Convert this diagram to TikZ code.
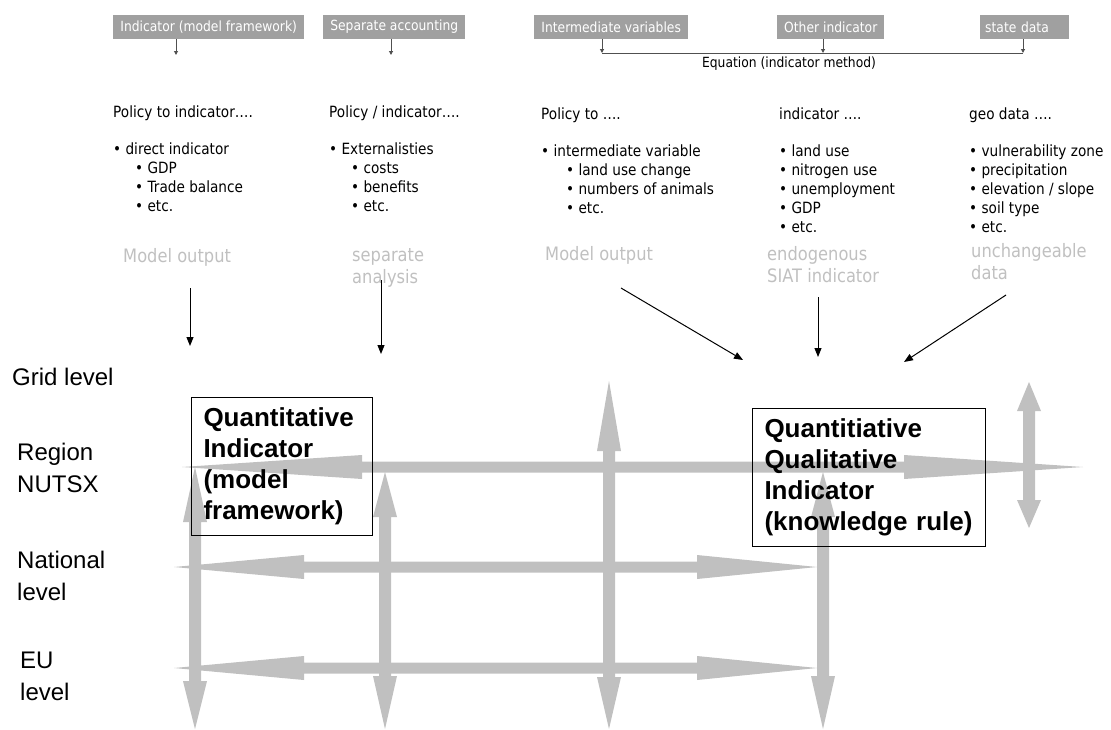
\documentclass[tikz,border=0pt]{standalone}
\usepackage{fontspec}
\setmainfont{Liberation Sans}
\newfontfamily\tahoma{DejaVu Sans}[FakeStretch=0.88]
\usetikzlibrary{arrows.meta}

\definecolor{levelgray}{RGB}{192,192,192}
\definecolor{boxgray}{RGB}{160,160,160}
\definecolor{notegray}{RGB}{192,192,192}
\definecolor{linkgray}{RGB}{80,80,80}

\begin{document}
\begin{tikzpicture}[x=1pt, y=-1pt,
		inputbox/.style={fill=boxgray, text=white, font=\tahoma\fontsize{14}{16}\selectfont,
		inner xsep=7pt, inner ysep=0pt, minimum height=24pt, anchor=west},
		listtext/.style={font=\tahoma\fontsize{15.5}{19}\selectfont, align=left,
		anchor=north west, inner sep=0pt},
		sourcetext/.style={font=\tahoma\fontsize{18.5}{22}\selectfont, text=notegray,
		align=left, anchor=north west, inner sep=0pt},
		leveltext/.style={font=\fontsize{24}{32}\selectfont, align=left, anchor=west,
		inner sep=0pt},
		indicatorbox/.style={draw, line width=1pt, font=\bfseries\fontsize{26}{31}\selectfont,
		align=left, anchor=north west, minimum height=138pt, inner xsep=12pt},
		smalllink/.style={draw=linkgray, line width=1pt, -{Triangle[length=4pt,width=4pt]}},
		feed/.style={line width=1pt, -{Triangle[length=9pt,width=7pt]}},
	]

	\useasboundingbox (0,0) rectangle (1111,729);

	% horizontal level arrow: y, left tip, left base, right base, right tip
	\newcommand\hlevel[5]{\fill[levelgray] (#2,#1) -- (#3,{#1-12}) -- (#3,{#1-5.5})
		-- (#4,{#1-5.5}) -- (#4,{#1-12}) -- (#5,#1) -- (#4,{#1+12}) -- (#4,{#1+5.5})
		-- (#3,{#1+5.5}) -- (#3,{#1+12}) -- cycle;}
	% vertical level arrow: x, top tip, top base, bottom base, bottom tip
	\newcommand\vlevel[5]{\fill[levelgray] (#1,#2) -- ({#1+12},#3) -- ({#1+6},#3)
		-- ({#1+6},#4) -- ({#1+12},#4) -- (#1,#5) -- ({#1-12},#4) -- ({#1-6},#4)
		-- ({#1-6},#3) -- ({#1-12},#3) -- cycle;}

	% grid of levels
	\hlevel{467}{182}{362}{904}{1083}
	\hlevel{567}{174}{304}{697}{817}
	\hlevel{668}{174}{304}{697}{817}
	\vlevel{195}{467}{522}{681}{729}
	\vlevel{385}{472}{517}{676}{729}
	\vlevel{609}{381}{451}{677}{729}
	\vlevel{823}{472}{517}{676}{729}
	\vlevel{1029}{382}{411}{500}{528}

	% inputs
	\node[inputbox, minimum width=191pt] (modelfw) at (113,27) {Indicator (model framework)};
	\node[inputbox, minimum width=142pt] (sepacc) at (323,27) {Separate accounting};
	\node[inputbox, minimum width=154pt] (intervar) at (534,27) {Intermediate variables};
	\node[inputbox, minimum width=107pt] (otherind) at (777,27) {Other indicator};
	\node[inputbox, text width=79pt, inner xsep=5pt, align=left] (statedata) at (980,27) {state data};

	\coordinate (modelfwend) at (176,55);
	\coordinate (sepaccend) at (391,55);
	\coordinate (eqleft) at (602,53);
	\coordinate (eqmid) at (823,53);
	\coordinate (eqright) at (1023,53);

	\draw[smalllink] (modelfw.south -| modelfwend) -- (modelfwend);
	\draw[smalllink] (sepacc.south -| sepaccend) -- (sepaccend);
	\draw[linkgray, line width=1pt] (eqleft) -- (eqright);
	\draw[smalllink] (intervar.south -| eqleft) -- (eqleft);
	\draw[smalllink] (otherind.south -| eqmid) -- (eqmid);
	\draw[smalllink] (statedata.south -| eqright) -- (eqright);
	\node[font=\tahoma\fontsize{14}{16}\selectfont] (equation) at (789,64) {Equation (indicator method)};

	% policy columns
	\node[listtext] (policyind) at (113,106) {Policy to indicator….\\[18pt]
		• direct indicator\\
		\hspace*{22pt}• GDP\\
		\hspace*{22pt}• Trade balance\\
		\hspace*{22pt}• etc.};
	\node[listtext] (policysep) at (329,106) {Policy / indicator….\\[18pt]
		• Externalisties\\
		\hspace*{22pt}• costs\\
		\hspace*{22pt}• benefits\\
		\hspace*{22pt}• etc.};
	\node[listtext] (policyvar) at (541,108) {Policy to ….\\[18pt]
		• intermediate variable\\
		\hspace*{25pt}• land use change\\
		\hspace*{25pt}• numbers of animals\\
		\hspace*{25pt}• etc.};
	\node[listtext] (indlist) at (779,108) {indicator ….\\[18pt]
		• land use\\
		• nitrogen use\\
		• unemployment\\
		• GDP\\
		• etc.};
	\node[listtext] (geolist) at (969,108) {geo data ….\\[18pt]
		• vulnerability zone\\
		• precipitation\\
		• elevation / slope\\
		• soil type\\
		• etc.};

	% sources
	\node[sourcetext] (srcmodel) at (123,248) {Model output};
	\node[sourcetext] (srcsep) at (352,248) {separate\\analysis};
	\node[sourcetext] (srcvar) at (545,246) {Model output};
	\node[sourcetext] (srcsiat) at (767,246) {endogenous\\SIAT indicator};
	\node[sourcetext] (srcgeo) at (971,243) {unchangeable\\data};

	\coordinate (feedmodel) at (190,288);
	\coordinate (feedmodelend) at (190,346);
	\coordinate (feedsep) at (381,280);
	\coordinate (feedsepend) at (381,354);
	\coordinate (feedvar) at (621,288);
	\coordinate (feedvarend) at (743,360);
	\coordinate (feedsiat) at (818,297);
	\coordinate (feedsiatend) at (818,357);
	\coordinate (feedgeo) at (1006,295);
	\coordinate (feedgeoend) at (904,362);

	\draw[feed] (feedmodel) -- (feedmodelend);
	\draw[feed] (feedsep) -- (feedsepend);
	\draw[feed] (feedvar) -- (feedvarend);
	\draw[feed] (feedsiat) -- (feedsiatend);
	\draw[feed] (feedgeo) -- (feedgeoend);

	% levels
	\node[leveltext] (gridlvl) at (12,377) {Grid level};
	\node[leveltext] (regionlvl) at (17,468) {Region\\NUTSX};
	\node[leveltext] (nationallvl) at (17,576) {National\\level};
	\node[leveltext] (eulvl) at (20,676) {EU\\level};

	% indicator boxes
	\node[indicatorbox, text width=157pt] (quantbox) at (191,397)
		{Quantitative\\Indicator\\(model\\framework)};
	\node[indicatorbox, text width=209pt] (qualbox) at (752,408)
		{Quantitiative\\Qualitative\\Indicator\\(knowledge rule)};

\end{tikzpicture}
\end{document}
